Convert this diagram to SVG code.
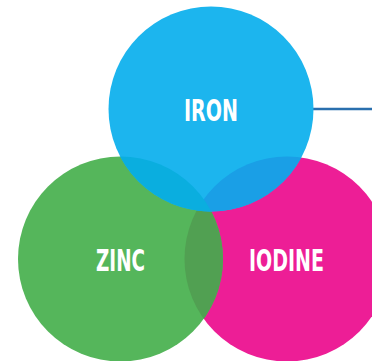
<svg xmlns="http://www.w3.org/2000/svg" width="372" height="361" viewBox="0 0 372 361">
<style>
.lbl{font-family:"DejaVu Sans Condensed","DejaVu Sans",sans-serif;font-weight:bold;font-size:30px;fill:#ffffff;text-anchor:middle}
</style>
<defs>
<clipPath id="cMag"><circle cx="287" cy="259" r="102.5"/></clipPath>
<clipPath id="cGreen"><circle cx="120.5" cy="259" r="102.5"/></clipPath>
</defs>
<rect width="372" height="361" fill="#ffffff"/>
<g id="connectors">
<line x1="312" y1="109" x2="372" y2="109" stroke="#2a6fae" stroke-width="2.5"/>
</g>
<g id="iodine">
<circle cx="287" cy="259" r="102.5" fill="#ed1e96"/>
<text class="lbl" x="286.5" y="271" textLength="75" lengthAdjust="spacingAndGlyphs">IODINE</text>
</g>
<g id="zinc">
<circle cx="120.5" cy="259" r="102.5" fill="#55b65b"/>
<circle cx="120.5" cy="259" r="102.5" fill="#51a052" clip-path="url(#cMag)"/>
<text class="lbl" x="120.5" y="271" textLength="49" lengthAdjust="spacingAndGlyphs">ZINC</text>
</g>
<g id="iron">
<circle cx="211" cy="109" r="102.5" fill="#1cb5ee"/>
<circle cx="211" cy="109" r="102.5" fill="#1a9fe6" clip-path="url(#cMag)"/>
<circle cx="211" cy="109" r="102.5" fill="#0aaedf" clip-path="url(#cGreen)"/>
<text class="lbl" x="211" y="121" textLength="54" lengthAdjust="spacingAndGlyphs">IRON</text>
</g>
</svg>
